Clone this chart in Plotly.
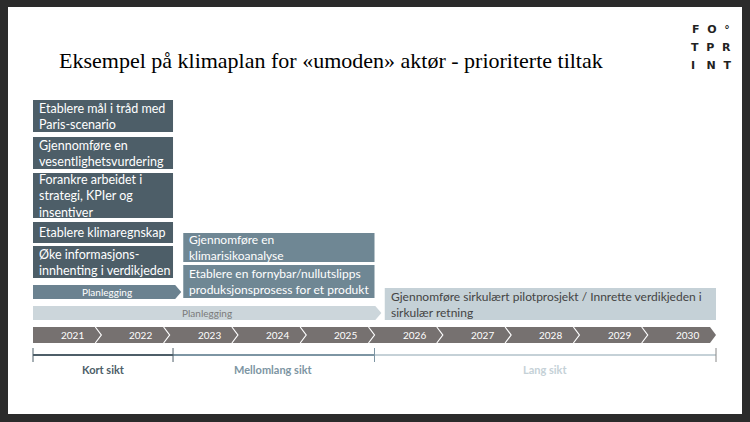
import plotly.graph_objects as go

years = [2021, 2022, 2023, 2024, 2025, 2026, 2027, 2028, 2029, 2030]

tasks_short = ["Etablere mål i tråd med<br>Paris-scenario",
               "Gjennomføre en<br>vesentlighetsvurdering",
               "Forankre arbeidet i<br>strategi, KPIer og<br>insentiver",
               "Etablere klimaregnskap",
               "Øke informasjons-<br>innhenting i verdikjeden"]
tasks_short_y = [(100, 132), (137, 169), (173, 218), (222, 243), (246, 278)]
tasks_mid = ["Gjennomføre en<br>klimarisikoanalyse",
             "Etablere en fornybar/nullutslipps<br>produksjonsprosess for et produkt"]
tasks_mid_y = [(233, 262), (265, 298)]
tasks_long = ["Gjennomføre sirkulært pilotprosjekt / Innrette verdikjeden i<br>sirkulær retning"]
tasks_long_y = [(288, 320)]
spans = {"short": (2021.0, 2023.05), "mid": (2023.2, 2026.0), "long": (2026.15, 2031.0)}
plan = [("Planlegging", 2021.0, 2023.17, 285, 299, "#6b8290", "white"),
        ("Planlegging", 2021.0, 2026.1, 306, 320, "#ccd6db", "#7a7a7a")]
horizons = [("Kort sikt", 2021.0, 2023.05, "#4d5e68"),
            ("Mellomlang sikt", 2023.05, 2026.0, "#7d95a3"),
            ("Lang sikt", 2026.0, 2031.0, "#c5d1d7")]

PX = 68.3
def px2yr(p):
    return 2021 + (p - 33) / PX
tip = 6 / PX

shapes, ann = [], []
FONT = "Lato"
shapes.append(dict(type="rect", xref="x", yref="y", x0=px2yr(8), x1=px2yr(742), y0=7, y1=414,
                   fillcolor="white", line_width=0, layer="below"))

def box(label, x0, x1, y0, y1, fill, tc, size):
    shapes.append(dict(type="rect", x0=x0, x1=x1, y0=y0, y1=y1, fillcolor=fill, line_width=0))
    ann.append(dict(x=x0 + 4 / PX, y=(y0 + y1) / 2, text=label, showarrow=False, xanchor="left",
                    yanchor="middle", align="left", font=dict(family=FONT, size=size, color=tc)))

for lab, (a, b) in zip(tasks_short, tasks_short_y):
    box(lab, *spans["short"], a, b, "#4d5e68", "white", 12.5)
for lab, (a, b) in zip(tasks_mid, tasks_mid_y):
    box(lab, *spans["mid"], a, b, "#6f8794", "white", 12)
for lab, (a, b) in zip(tasks_long, tasks_long_y):
    box(lab, *spans["long"], a, b, "#c5d1d7", "#444444", 12)

for lab, x0, x1, y0, y1, fill, tc in plan:
    path = f"M{x0},{y0} L{x1 - tip},{y0} L{x1},{(y0+y1)/2} L{x1 - tip},{y1} L{x0},{y1} Z"
    shapes.append(dict(type="path", path=path, fillcolor=fill, line_width=0))
    ann.append(dict(x=(x0 + x1) / 2, y=(y0 + y1) / 2, text=lab, showarrow=False,
                    font=dict(family=FONT, size=10, color=tc)))

ty0, ty1 = 327, 343
tm = (ty0 + ty1) / 2
end = years[-1] + 1
shapes.append(dict(type="path",
                   path=f"M{years[0]},{ty0} L{end - tip},{ty0} L{end},{tm} L{end - tip},{ty1} L{years[0]},{ty1} Z",
                   fillcolor="#767170", line_width=0))
for y in years:
    ann.append(dict(x=y + 0.58, y=tm, text=str(y), showarrow=False,
                    font=dict(family=FONT, size=10, color="white")))
    if y > years[0]:
        shapes.append(dict(type="path", path=f"M{y - tip},{ty0} L{y},{tm} L{y - tip},{ty1}",
                           line=dict(color="white", width=1.2)))

hy = 355
for lab, a, b, c in horizons:
    shapes.append(dict(type="line", x0=a, x1=b, y0=hy, y1=hy, line=dict(color=c, width=2)))
    ann.append(dict(x=(a + b) / 2, y=369, text=f"<b>{lab}</b>", showarrow=False,
                    font=dict(family=FONT, size=11, color=c)))
for t, c in [(2021.0, "#4d5e68"), (2023.05, "#4d5e68"), (2026.0, "#7d95a3"), (2031.0, "#888888")]:
    shapes.append(dict(type="line", x0=t, x1=t, y0=348, y1=362, line=dict(color=c, width=1)))

ann.append(dict(x=px2yr(57), y=60, text="Eksempel på klimaplan for «umoden» aktør - prioriterte tiltak",
                showarrow=False, xanchor="left", font=dict(family="Liberation Serif", size=22, color="black")))
for i, row in enumerate(["F  O  °", "T  P  R", "I   N  T"]):
    ann.append(dict(x=px2yr(711), y=29 + i * 18, text=f"<b>{row}</b>", showarrow=False,
                    font=dict(family="DejaVu Sans", size=11, color="#222222")))

fig = go.Figure()
fig.update_layout(width=750, height=422, margin=dict(l=0, r=0, t=0, b=0),
                  paper_bgcolor="#2b2b2b", plot_bgcolor="#2b2b2b",
                  xaxis=dict(range=[px2yr(0), px2yr(750)], visible=False, fixedrange=True),
                  yaxis=dict(range=[422, 0], visible=False, fixedrange=True),
                  shapes=shapes, annotations=ann, showlegend=False)
fig.write_html("out.html", config={"displayModeBar": False},
               post_script="document.body.style.margin='0';document.body.style.overflow='hidden';document.body.style.background='#2b2b2b';")
